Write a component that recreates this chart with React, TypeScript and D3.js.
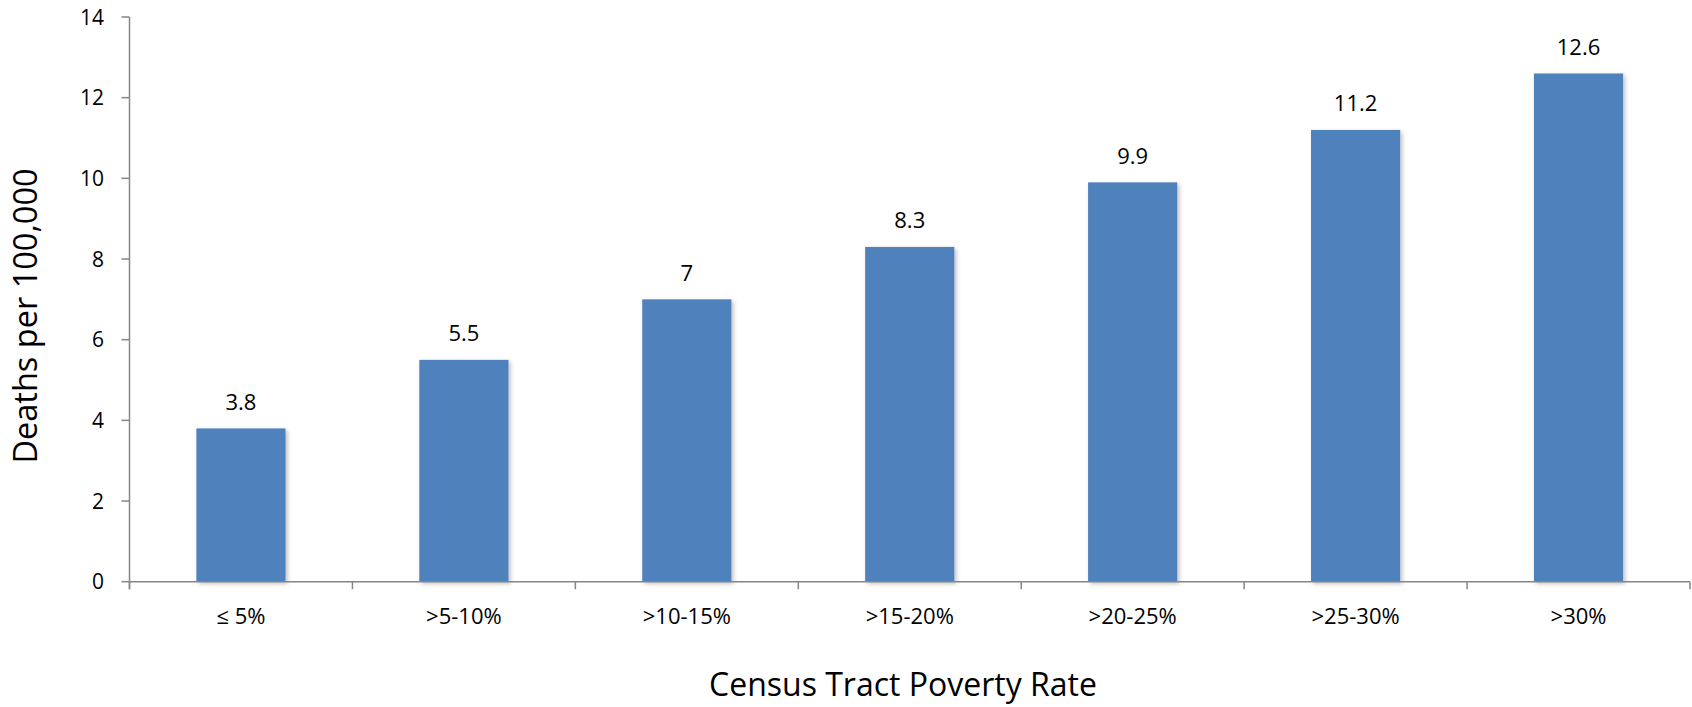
import React from "react";
import * as d3 from "d3";

const categories = ["≤ 5%", ">5-10%", ">10-15%", ">15-20%", ">20-25%", ">25-30%", ">30%"];
const values = [3.8, 5.5, 7, 8.3, 9.9, 11.2, 12.6];
const valueLabels = ["3.8", "5.5", "7", "8.3", "9.9", "11.2", "12.6"];
const yTicks = [0, 2, 4, 6, 8, 10, 12, 14];
const xTitle = "Census Tract Poverty Rate";
const yTitle = "Deaths per 100,000";

const W = 1692;
const H = 707;
const left = 129.5;
const right = 1690;
const top = 17;
const bottom = 581.7;
const FONT = "'Open Sans', Lato, sans-serif";
const AXIS = "#868686";
const BAR = "#4F81BD";

export default function App() {
  const x = d3.scaleBand<string>().domain(categories).range([left, right]).paddingInner(0.6).paddingOuter(0.3);
  const xb = d3.scaleBand<string>().domain(categories).range([left, right]).padding(0);
  const y = d3.scaleLinear().domain([0, 14]).range([bottom, top]);
  const bounds = [...categories.map((c) => xb(c) as number), right];

  return (
    <svg width={W} height={H} style={{ position: "absolute", left: 0, top: 0, background: "#fff" }}>
      <defs>
        <filter id="sh" x="-20%" y="-20%" width="140%" height="140%">
          <feDropShadow dx="2" dy="2" stdDeviation="2" floodColor="#000" floodOpacity="0.25" />
        </filter>
      </defs>
      {categories.map((c, i) => (
        <rect
          key={c}
          x={x(c)}
          y={y(values[i])}
          width={x.bandwidth()}
          height={bottom - y(values[i])}
          fill={BAR}
          filter="url(#sh)"
        />
      ))}
      {/* y axis */}
      <line x1={left} x2={left} y1={top} y2={bottom + 7.5} stroke={AXIS} strokeWidth={1.5} />
      {yTicks.map((t) => (
        <g key={t}>
          <line x1={left - 8} x2={left} y1={y(t)} y2={y(t)} stroke={AXIS} strokeWidth={1.5} />
          <text x={104} y={y(t)} dy="0.36em" textAnchor="end" fontFamily={FONT} fontSize={21} fill="#000">
            {t}
          </text>
        </g>
      ))}
      {/* x axis */}
      <line x1={left} x2={right} y1={bottom} y2={bottom} stroke={AXIS} strokeWidth={1.5} />
      {bounds.map((b, i) => (
        <line key={i} x1={b} x2={b} y1={bottom} y2={bottom + 7.5} stroke={AXIS} strokeWidth={1.5} />
      ))}
      {categories.map((c) => (
        <text
          key={c}
          x={(x(c) as number) + x.bandwidth() / 2}
          y={624}
          textAnchor="middle"
          fontFamily={FONT}
          fontSize={22}
          fill="#000"
        >
          {c}
        </text>
      ))}
      {categories.map((c, i) => (
        <text
          key={c}
          x={(x(c) as number) + x.bandwidth() / 2}
          y={y(values[i]) - 18.5}
          textAnchor="middle"
          fontFamily={FONT}
          fontSize={22}
          fill="#000"
        >
          {valueLabels[i]}
        </text>
      ))}
      <text x={903} y={696} textAnchor="middle" fontFamily={FONT} fontSize={32} fill="#000">
        {xTitle}
      </text>
      <text
        transform={`translate(37,316) rotate(-90)`}
        textAnchor="middle"
        fontFamily={FONT}
        fontSize={32.5}
        fill="#000"
      >
        {yTitle}
      </text>
    </svg>
  );
}
